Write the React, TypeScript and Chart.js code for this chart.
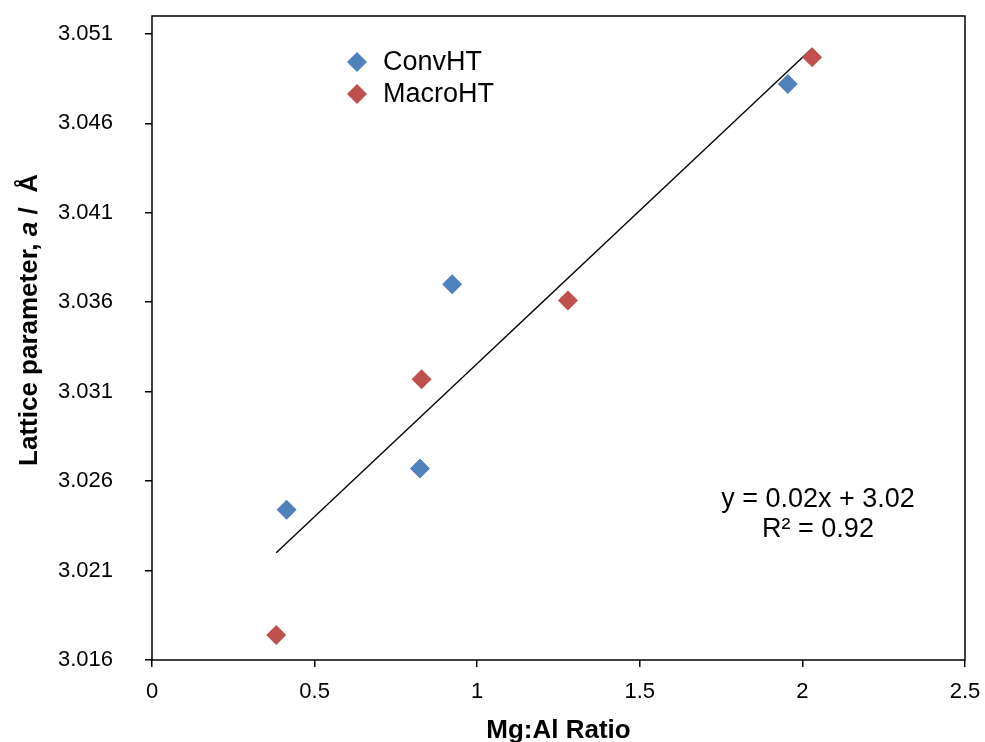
import { useEffect, useRef } from 'react';
import { Chart, registerables } from 'chart.js';

Chart.register(...registerables);

// Mg:Al ratio vs. lattice parameter a (Å)
const convRatio = [0.414, 0.824, 0.923, 1.955];
const convLattice = [3.0244, 3.0267, 3.037, 3.0482];
const macroRatio = [0.382, 0.829, 1.279, 2.03];
const macroLattice = [3.0174, 3.0317, 3.0361, 3.0497];

// Linear fit drawn across the data range
const trendRatio = [0.382, 2.03];
const trendLattice = [3.022, 3.0502];
const trendEquation = 'y = 0.02x + 3.02';
const trendR2 = 'R² = 0.92';

const xTicks = [0, 0.5, 1, 1.5, 2, 2.5];
const yTicks = [3.016, 3.021, 3.026, 3.031, 3.036, 3.041, 3.046, 3.051];

const seriesNames = ['ConvHT', 'MacroHT'];
const seriesColors = ['#4F81BD', '#C0504D'];

const FONT = '"Liberation Sans", Arial, sans-serif';

function diamond(ctx: CanvasRenderingContext2D, x: number, y: number, r: number, color: string) {
  ctx.beginPath();
  ctx.moveTo(x - r, y);
  ctx.lineTo(x, y - r);
  ctx.lineTo(x + r, y);
  ctx.lineTo(x, y + r);
  ctx.closePath();
  ctx.fillStyle = color;
  ctx.fill();
}

const decorations = {
  id: 'decorations',
  afterDraw(chart: any) {
    const { ctx, chartArea } = chart;
    const { left, top, right, bottom } = chartArea;
    ctx.save();

    // plot frame
    ctx.strokeStyle = '#000';
    ctx.lineWidth = 1.5;
    ctx.strokeRect(left, top, right - left, bottom - top);

    // legend
    ctx.font = `27px ${FONT}`;
    ctx.textAlign = 'left';
    ctx.textBaseline = 'middle';
    seriesNames.forEach((name, i) => {
      const y = 62 + i * 32;
      diamond(ctx, 357, y, 10, seriesColors[i]);
      ctx.fillStyle = '#000';
      ctx.fillText(name, 383, y + 1);
    });

    // trendline label
    ctx.textAlign = 'center';
    ctx.textBaseline = 'alphabetic';
    ctx.fillStyle = '#000';
    ctx.fillText(trendEquation, 818, 507);
    ctx.fillText(trendR2, 818, 537);

    // x-axis title
    ctx.font = `bold 26px ${FONT}`;
    ctx.fillText('Mg:Al Ratio', (left + right) / 2, 738);

    // y-axis title with italic "a"
    const parts: [string, string][] = [
      ['Lattice parameter, ', `bold 26px ${FONT}`],
      ['a', `italic bold 26px ${FONT}`],
      [' /  Å', `bold 26px ${FONT}`],
    ];
    let total = 0;
    const widths = parts.map(([t, f]) => {
      ctx.font = f;
      const w = ctx.measureText(t).width;
      total += w;
      return w;
    });
    ctx.translate(37, 320);
    ctx.rotate(-Math.PI / 2);
    ctx.textAlign = 'left';
    let x = -total / 2;
    parts.forEach(([t, f], i) => {
      ctx.font = f;
      ctx.fillText(t, x, 0);
      x += widths[i];
    });

    ctx.restore();
  },
};

export default function App() {
  const canvasRef = useRef<HTMLCanvasElement | null>(null);

  useEffect(() => {
    const canvas = canvasRef.current;
    if (!canvas) return;
    const chart = new Chart(canvas, {
      type: 'scatter',
      data: {
        datasets: [
          {
            label: seriesNames[0],
            data: convRatio.map((x, i) => ({ x, y: convLattice[i] })),
            backgroundColor: seriesColors[0],
            borderColor: seriesColors[0],
            borderWidth: 0,
            pointStyle: 'rectRot',
            pointRadius: 10,
          },
          {
            label: seriesNames[1],
            data: macroRatio.map((x, i) => ({ x, y: macroLattice[i] })),
            backgroundColor: seriesColors[1],
            borderColor: seriesColors[1],
            borderWidth: 0,
            pointStyle: 'rectRot',
            pointRadius: 10,
          },
          {
            type: 'line',
            label: 'Linear fit',
            data: trendRatio.map((x, i) => ({ x, y: trendLattice[i] })),
            borderColor: '#000',
            borderWidth: 1.4,
            pointRadius: 0,
            showLine: true,
            fill: false,
          } as any,
        ],
      },
      options: {
        responsive: false,
        animation: false,
        devicePixelRatio: 1,
        layout: { padding: { left: 0, top: 16, right: 20, bottom: 0 } },
        plugins: {
          legend: { display: false },
          tooltip: { enabled: false },
          title: { display: false },
        },
        scales: {
          x: {
            type: 'linear',
            min: 0,
            max: 2.5,
            afterBuildTicks: (scale: any) => {
              scale.ticks = xTicks.map((value) => ({ value }));
            },
            afterFit: (scale: any) => {
              scale.height = 82;
              scale.paddingLeft = 0;
              scale.paddingRight = 0;
            },
            border: { display: false },
            grid: {
              drawOnChartArea: false,
              drawTicks: true,
              tickLength: 7,
              color: '#000',
              lineWidth: 1.5,
            },
            ticks: {
              color: '#000',
              padding: 12,
              font: { family: FONT, size: 22 },
              maxRotation: 0,
              callback: (v: any) => String(v),
            },
          },
          y: {
            type: 'linear',
            min: 3.016,
            max: 3.052,
            afterBuildTicks: (scale: any) => {
              scale.ticks = yTicks.map((value) => ({ value }));
            },
            afterFit: (scale: any) => {
              scale.width = 152;
              scale.paddingTop = 0;
              scale.paddingBottom = 0;
            },
            border: { display: false },
            grid: {
              drawOnChartArea: false,
              drawTicks: true,
              tickLength: 7,
              color: '#000',
              lineWidth: 1.5,
            },
            ticks: {
              color: '#000',
              padding: 32,
              font: { family: FONT, size: 22 },
              callback: (v: any) => Number(v).toFixed(3),
            },
          },
        },
      },
      plugins: [decorations],
    });
    return () => chart.destroy();
  }, []);

  return (
    <div style={{ position: 'absolute', left: 0, top: 0, width: 985, height: 742, background: '#fff' }}>
      <canvas ref={canvasRef} width={985} height={742} style={{ display: 'block' }} />
    </div>
  );
}
